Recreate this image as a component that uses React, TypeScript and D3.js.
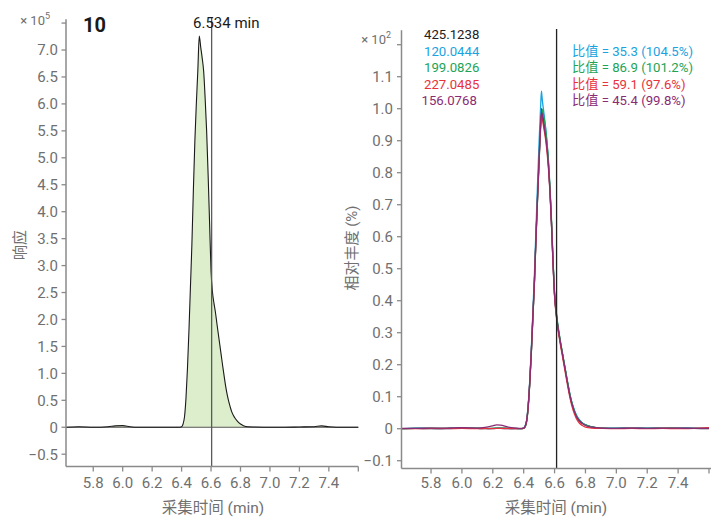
import React from "react";
import * as d3 from "d3";

// ---------- data ----------
const leftTime = [5.615, 5.7, 5.8, 5.9, 5.95, 6.0, 6.05, 6.1, 6.2, 6.3, 6.38, 6.40, 6.41, 6.42, 6.43, 6.44, 6.45, 6.46, 6.47, 6.48, 6.49, 6.50, 6.51, 6.52, 6.53, 6.54, 6.55, 6.56, 6.57, 6.58, 6.59, 6.60, 6.61, 6.62, 6.63, 6.64, 6.65, 6.66, 6.67, 6.68, 6.69, 6.70, 6.71, 6.72, 6.73, 6.74, 6.76, 6.78, 6.80, 6.82, 6.85, 6.9, 7.0, 7.1, 7.2, 7.3, 7.35, 7.4, 7.5, 7.6];
const leftResp = [0, 0.01, 0, 0.01, 0.025, 0.03, 0.01, 0, 0, 0, 0, 0.01, 0.06, 0.2, 0.55, 1.1, 1.8, 2.6, 3.4, 4.4, 5.3, 6.0, 6.6, 7.26, 7.05, 6.85, 6.6, 6.1, 5.5, 4.7, 3.8, 2.9, 2.5, 2.3, 2.13, 1.92, 1.72, 1.52, 1.32, 1.12, 0.93, 0.75, 0.6, 0.48, 0.38, 0.29, 0.18, 0.11, 0.06, 0.03, 0.01, 0.005, 0, 0, 0.005, 0.01, 0.025, 0.01, 0, 0];

const rightTime = [5.612, 5.7, 5.8, 5.9, 6.0, 6.1, 6.15, 6.2, 6.225, 6.25, 6.3, 6.35, 6.38, 6.40, 6.41, 6.42, 6.43, 6.44, 6.45, 6.46, 6.47, 6.48, 6.49, 6.50, 6.51, 6.515, 6.52, 6.53, 6.54, 6.55, 6.56, 6.57, 6.58, 6.59, 6.60, 6.61, 6.62, 6.63, 6.64, 6.65, 6.66, 6.67, 6.68, 6.69, 6.70, 6.72, 6.74, 6.76, 6.78, 6.80, 6.84, 6.90, 7.0, 7.1, 7.2, 7.3, 7.4, 7.5, 7.6];
const ion425 = [0, 0.001, 0, 0.001, 0.002, 0.001, 0, 0.001, 0.001, 0.002, 0.001, 0, 0, 0.002, 0.008, 0.028, 0.076, 0.152, 0.248, 0.358, 0.468, 0.606, 0.73, 0.85, 0.96, 1.0, 0.99, 0.96, 0.93, 0.89, 0.83, 0.75, 0.645, 0.523, 0.42, 0.365, 0.325, 0.293, 0.264, 0.237, 0.209, 0.182, 0.154, 0.128, 0.103, 0.066, 0.04, 0.025, 0.017, 0.012, 0.006, 0.002, 0.001, 0.002, 0.001, 0.001, 0.002, 0.001, 0];
const ion120 = [0, 0.002, 0.001, 0, 0.003, 0.001, 0.001, 0, 0.002, 0.001, 0, 0.001, 0, 0.003, 0.01, 0.03, 0.08, 0.158, 0.258, 0.372, 0.49, 0.632, 0.77, 0.9, 1.01, 1.055, 1.03, 0.99, 0.95, 0.9, 0.835, 0.75, 0.64, 0.52, 0.418, 0.362, 0.322, 0.29, 0.262, 0.236, 0.209, 0.183, 0.156, 0.13, 0.106, 0.07, 0.044, 0.028, 0.018, 0.012, 0.005, 0.002, 0.002, 0.001, 0.002, 0.001, 0.001, 0.002, 0.001];
const ion199 = [0, 0.001, 0.002, 0.001, 0.001, 0.002, 0.001, 0.001, 0.002, 0.001, 0.001, 0.001, 0, 0.001, 0.006, 0.024, 0.07, 0.145, 0.24, 0.35, 0.46, 0.598, 0.72, 0.835, 0.94, 0.975, 0.998, 0.975, 0.945, 0.9, 0.84, 0.76, 0.655, 0.53, 0.428, 0.37, 0.33, 0.297, 0.267, 0.24, 0.212, 0.185, 0.157, 0.131, 0.106, 0.068, 0.042, 0.027, 0.018, 0.012, 0.006, 0.002, 0.001, 0.001, 0.001, 0.002, 0.001, 0.001, 0.001];
const ion227 = [0, 0, 0.001, 0, 0.001, 0, 0.001, 0, 0.001, 0.001, 0, 0, 0, 0.001, 0.007, 0.026, 0.074, 0.15, 0.245, 0.355, 0.463, 0.6, 0.722, 0.84, 0.95, 0.982, 0.97, 0.94, 0.91, 0.87, 0.815, 0.74, 0.637, 0.515, 0.413, 0.357, 0.318, 0.285, 0.256, 0.229, 0.201, 0.174, 0.146, 0.12, 0.096, 0.058, 0.033, 0.018, 0.01, 0.005, 0.002, 0.001, 0, 0.001, 0, 0.001, 0, 0.001, 0.003];
const ion156 = [0.001, 0.001, 0.002, 0.002, 0.003, 0.002, 0.004, 0.009, 0.012, 0.011, 0.005, 0.002, 0.001, 0.002, 0.008, 0.027, 0.075, 0.15, 0.246, 0.356, 0.466, 0.603, 0.728, 0.845, 0.955, 0.99, 0.98, 0.95, 0.92, 0.88, 0.825, 0.745, 0.642, 0.52, 0.418, 0.363, 0.324, 0.292, 0.263, 0.236, 0.208, 0.181, 0.153, 0.127, 0.102, 0.065, 0.04, 0.025, 0.016, 0.01, 0.005, 0.002, 0.001, 0.002, 0.001, 0.002, 0.002, 0.001, 0.001];

const ionLabels = ["425.1238", "120.0444", "199.0826", "227.0485", "156.0768"];
const ionColors = ["#222222", "#19a3e0", "#1ea456", "#e8323c", "#8a2c74"];
const ratioLabels = ["比值 = 35.3 (104.5%)", "比值 = 86.9 (101.2%)", "比值 = 59.1 (97.6%)", "比值 = 45.4 (99.8%)"];

const xTicks = [5.8, 6.0, 6.2, 6.4, 6.6, 6.8, 7.0, 7.2, 7.4, 7.6];
const leftYTicks = [-0.5, 0, 0.5, 1.0, 1.5, 2.0, 2.5, 3.0, 3.5, 4.0, 4.5, 5.0, 5.5, 6.0, 6.5, 7.0, 7.5];
const rightYTicks = [-0.1, 0, 0.1, 0.2, 0.3, 0.4, 0.5, 0.6, 0.7, 0.8, 0.9, 1.0, 1.1, 1.2];

const compoundNo = "10";
const rtLabel = "6.534 min";
const rtMarkL = 6.604;
const rtMarkR = 6.613;

const FONT = "Roboto, 'Noto Sans CJK SC', sans-serif";
const GRAY = "#707070";
const AXIS = "#8a8a8a";

const fmt = (v: number) => (v === 0 ? "0" : d3.format(".1f")(v));

export default function App() {
  const xL = d3.scaleLinear().domain([5.615, 7.6]).range([66, 358.3]);
  const yL = d3.scaleLinear().domain([-0.73, 7.57]).range([466.6, 19.3]);
  const xR = d3.scaleLinear().domain([5.612, 7.6]).range([402, 709]);
  const yR = d3.scaleLinear().domain([-0.124, 1.245]).range([468.4, 30.3]);

  const leftPts = leftTime.map((t, i) => [t, leftResp[i]] as [number, number]);
  const area = d3
    .area<[number, number]>()
    .x((d) => xL(d[0]))
    .y0(yL(0))
    .y1((d) => yL(d[1]))
    .curve(d3.curveMonotoneX);
  const lineL = d3
    .line<[number, number]>()
    .x((d) => xL(d[0]))
    .y((d) => yL(d[1]))
    .curve(d3.curveMonotoneX);
  const lineR = d3
    .line<[number, number]>()
    .x((d) => xR(d[0]))
    .y((d) => yR(d[1]))
    .curve(d3.curveMonotoneX);

  const ions = [ion425, ion120, ion199, ion227, ion156];

  const lyTop = yL.range()[1];
  const lyBot = yL.range()[0];
  const ryTop = yR.range()[1];
  const ryBot = yR.range()[0];

  return (
    <svg
      width={711}
      height={518}
      style={{ position: "absolute", left: 0, top: 0, background: "#fff" }}
      fontFamily={FONT}
    >
      {/* ---------- LEFT PANEL ---------- */}
      <path d={area(leftPts) || ""} fill="#ddeecd" stroke="none" />
      <line x1={xL.range()[0]} x2={xL.range()[1]} y1={yL(0)} y2={yL(0)} stroke="#555" strokeWidth={1} />
      <path d={lineL(leftPts) || ""} fill="none" stroke="#1a1a1a" strokeWidth={1.1} />
      <line x1={xL(rtMarkL)} x2={xL(rtMarkL)} y1={17} y2={lyBot} stroke="#5a5a5a" strokeWidth={1.3} />

      {/* axes */}
      <line x1={66} x2={66} y1={lyTop} y2={lyBot} stroke={AXIS} strokeWidth={1.5} />
      <line x1={66} x2={xL.range()[1]} y1={lyBot} y2={lyBot} stroke={AXIS} strokeWidth={1.5} />
      {leftYTicks.map((v) => (
        <g key={"ly" + v}>
          <line x1={61.5} x2={66} y1={yL(v)} y2={yL(v)} stroke={AXIS} strokeWidth={1.3} />
          {v !== 7.5 && (
            <text x={58} y={yL(v)} dy="0.36em" textAnchor="end" fontSize={15} fill={GRAY}>
              {fmt(v)}
            </text>
          )}
        </g>
      ))}
      <text x={50} y={yL(7.5) + 2} textAnchor="end" fontSize={13} fill={GRAY}>
        × 10<tspan fontSize={9} dy={-6}>5</tspan>
      </text>
      {xTicks.map((v) => (
        <g key={"lx" + v}>
          <line x1={xL(v)} x2={xL(v)} y1={lyBot} y2={lyBot + 5} stroke={AXIS} strokeWidth={1.3} />
          {v !== 7.6 && (
            <text x={xL(v)} y={488} textAnchor="middle" fontSize={15} fill={GRAY}>
              {v.toFixed(1)}
            </text>
          )}
        </g>
      ))}
      <text x={213} y={513} textAnchor="middle" fontSize={15.5} fill={GRAY}>
        采集时间 (min)
      </text>
      <text
        transform={`translate(25,245) rotate(-90)`}
        textAnchor="middle"
        fontSize={15}
        fill={GRAY}
      >
        响应
      </text>
      <text x={83} y={32} fontSize={20} fontWeight={700} fill="#1a1a1a">
        {compoundNo}
      </text>
      <text x={193} y={28} fontSize={15} fill="#1a1a1a">
        {rtLabel}
      </text>

      {/* ---------- RIGHT PANEL ---------- */}
      {ions.map((vals, k) => (
        <path
          key={"ion" + k}
          d={lineR(rightTime.map((t, i) => [t, vals[i]] as [number, number])) || ""}
          fill="none"
          stroke={ionColors[k]}
          strokeWidth={1.3}
        />
      ))}
      <line x1={xR(rtMarkR)} x2={xR(rtMarkR)} y1={29} y2={ryBot} stroke="#222" strokeWidth={1.3} />

      <line x1={401.5} x2={401.5} y1={ryTop} y2={ryBot} stroke={AXIS} strokeWidth={1.5} />
      <line x1={401.5} x2={711} y1={ryBot} y2={ryBot} stroke={AXIS} strokeWidth={1.5} />
      {rightYTicks.map((v) => (
        <g key={"ry" + v}>
          <line x1={397} x2={401.5} y1={yR(v)} y2={yR(v)} stroke={AXIS} strokeWidth={1.3} />
          {v !== 1.2 && (
            <text x={393} y={yR(v)} dy="0.36em" textAnchor="end" fontSize={15} fill={GRAY}>
              {fmt(v)}
            </text>
          )}
        </g>
      ))}
      <text x={391} y={yR(1.2) - 1} textAnchor="end" fontSize={13} fill={GRAY}>
        × 10<tspan fontSize={9} dy={-6}>2</tspan>
      </text>
      {xTicks.map((v) => (
        <g key={"rx" + v}>
          <line x1={xR(v)} x2={xR(v)} y1={ryBot} y2={ryBot + 5} stroke={AXIS} strokeWidth={1.3} />
          {v !== 7.6 && (
            <text x={xR(v)} y={488} textAnchor="middle" fontSize={15} fill={GRAY}>
              {v.toFixed(1)}
            </text>
          )}
        </g>
      ))}
      <text x={556} y={513} textAnchor="middle" fontSize={15.5} fill={GRAY}>
        采集时间 (min)
      </text>
      <text
        transform={`translate(357,248) rotate(-90)`}
        textAnchor="middle"
        fontSize={15}
        fill={GRAY}
      >
        相对丰度 (%)
      </text>

      {ionLabels.map((lab, k) => (
        <text
          key={"il" + k}
          x={k === 4 ? 421.5 : 424}
          y={39 + k * 16.5}
          fontSize={13.2}
          fill={ionColors[k]}
        >
          {lab}
        </text>
      ))}
      {ratioLabels.map((lab, k) => (
        <text key={"rl" + k} x={572} y={55.5 + k * 16.5} fontSize={13.2} fill={ionColors[k + 1]}>
          {lab}
        </text>
      ))}
    </svg>
  );
}
